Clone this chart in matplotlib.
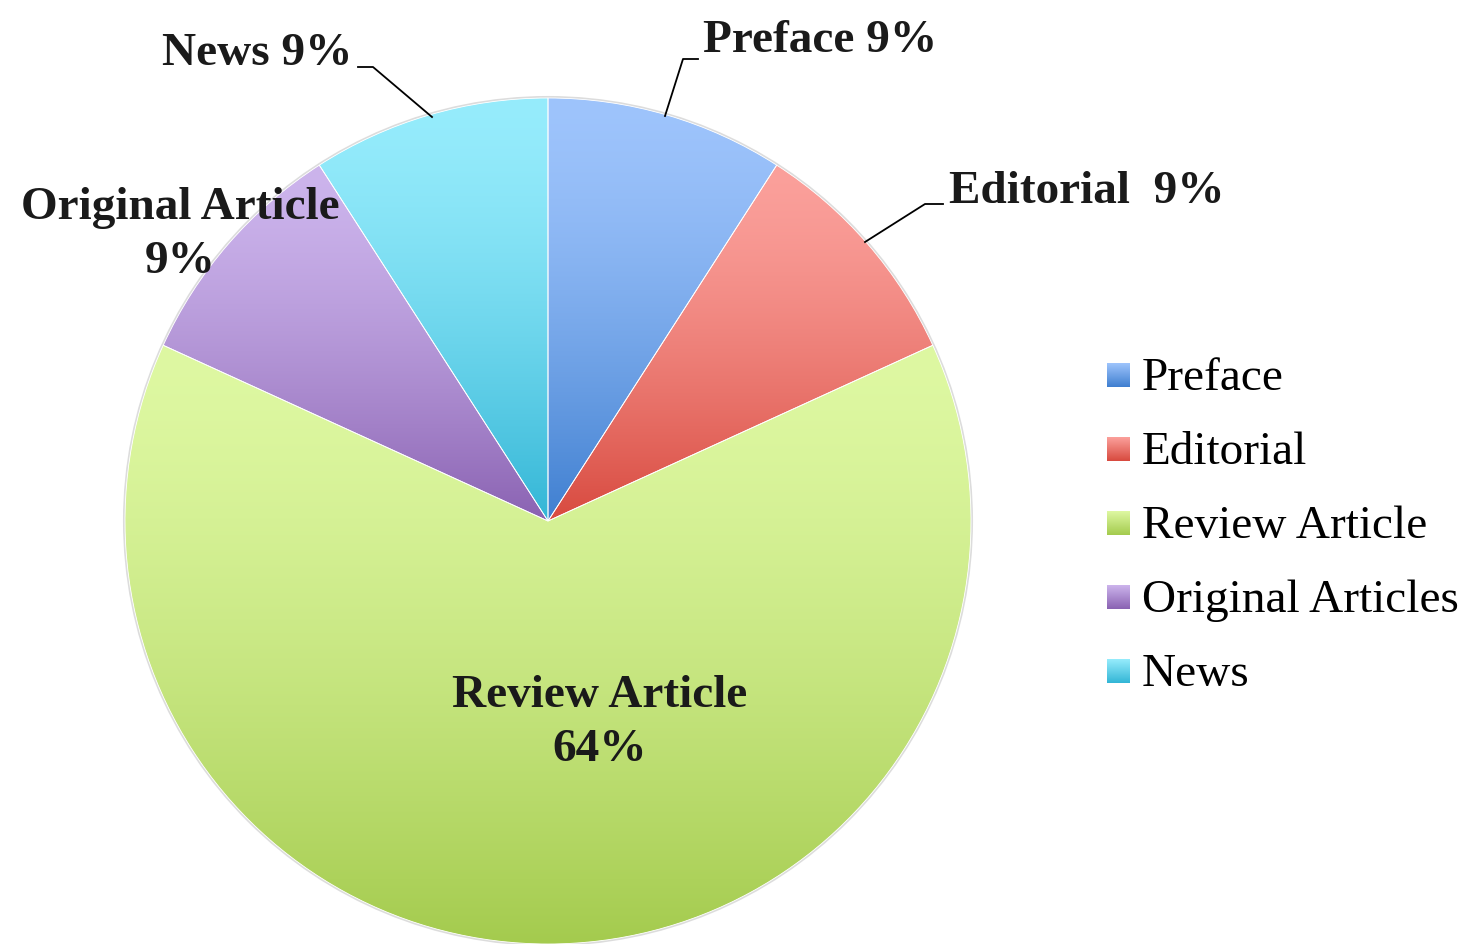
import numpy as np
import matplotlib.pyplot as plt
from matplotlib.colors import to_rgb

categories = ['Preface', 'Editorial', 'Review Article', 'Original Articles', 'News']
counts = [1, 1, 7, 1, 1]
top_colors = ['#9EC4FC', '#FBA09B', '#DEF8A2', '#CCB4EC', '#96ECFC']
bottom_colors = ['#3F7FD0', '#D84A3F', '#A4CB4E', '#8A62B2', '#33B6D6']

plt.rcParams['font.family'] = ['Liberation Serif', 'DejaVu Serif']

fig = plt.figure(figsize=(14.68, 9.45), dpi=100)
ax = fig.add_axes([0, 0, 1, 1])

# pie in pixel-like data coords (y up)
cx, cy, r = 548, 423, 423
wedges, _ = ax.pie(counts, startangle=90, counterclock=False, center=(cx, cy), radius=r,
                   wedgeprops=dict(facecolor='none', edgecolor='white', linewidth=0.6, zorder=3))


def grad(c1, c2, n=256, p=1.5):
    a, b = np.array(to_rgb(c1)), np.array(to_rgb(c2))
    t = np.linspace(0, 1, n)[:, None] ** p
    return (a + (b - a) * t)[:, None, :]


for w, c1, c2 in zip(wedges, top_colors, bottom_colors):
    v = w.get_path().vertices
    ext = (v[:, 0].min(), v[:, 0].max(), v[:, 1].min(), v[:, 1].max())
    im = ax.imshow(grad(c1, c2), extent=ext, origin='upper', aspect='auto', zorder=2)
    im.set_clip_path(w)

# faint shadow on the rim
ax.add_patch(plt.Circle((cx, cy), r + 1, fill=False, edgecolor='#bbbbbb', lw=1.5, alpha=0.5, zorder=1))

pct = [round(100 * c / sum(counts)) for c in counts]
lab = dict(fontsize=34, fontweight='bold', color='#1a1a1a', ha='center', va='center', zorder=5)

ax.text(820, 904, f'Preface {pct[0]}%', **lab)
ax.plot([665, 683, 698], [828, 885, 885], color='black', lw=1.3, zorder=4)

ax.text(1087, 753, f'Editorial  {pct[1]}%', **lab)
ax.plot([865, 925, 943], [702, 740, 740], color='black', lw=1.3, zorder=4)

ax.text(600, 222, f'Review Article\n{pct[2]}%', linespacing=1.35, **lab)

ax.text(180, 710, f'Original Article\n{pct[3]}%', linespacing=1.35, **lab)

ax.text(257, 891, f'News {pct[4]}%', **lab)
ax.plot([432, 373, 358], [827, 877, 877], color='black', lw=1.3, zorder=4)

# legend with gradient squares
for i, (name, c1, c2) in enumerate(zip(categories, top_colors, bottom_colors)):
    y = 945 - (376 + 74 * i)
    ax.imshow(grad(c1, c2, 64, 1.0), extent=(1107, 1130, y - 12, y + 12), origin='upper',
              aspect='auto', zorder=4)
    ax.text(1142, y - 3, name, fontsize=34, color='black', ha='left', va='center')

ax.set_xlim(0, 1468)
ax.set_ylim(0, 945)
ax.set_aspect('auto')
ax.axis('off')

fig.savefig('out.png', dpi=100)
